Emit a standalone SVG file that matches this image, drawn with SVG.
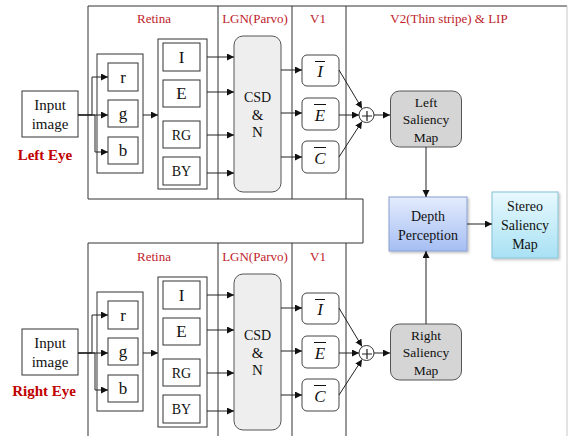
<svg xmlns="http://www.w3.org/2000/svg" width="569" height="436" viewBox="0 0 569 436">
<defs>
<marker id="ah" markerUnits="userSpaceOnUse" markerWidth="8" markerHeight="8" refX="7" refY="3.5" orient="auto"><path d="M0,0 L7,3.5 L0,7 z" fill="#111"/></marker>
<linearGradient id="gDepth" x1="0" y1="0" x2="0" y2="1"><stop offset="0" stop-color="#e4ecfd"/><stop offset="1" stop-color="#a5bef3"/></linearGradient>
<linearGradient id="gStereo" x1="0" y1="0" x2="0" y2="1"><stop offset="0" stop-color="#e8f9fe"/><stop offset="1" stop-color="#a8e1f4"/></linearGradient>
<filter id="sh" x="-10%" y="-10%" width="130%" height="130%"><feDropShadow dx="1.5" dy="1.5" stdDeviation="1" flood-color="#000" flood-opacity="0.25"/></filter>
</defs>
<style>
text{font-family:"Liberation Serif","Times New Roman",serif;fill:#111;text-anchor:middle}
.frame{fill:none;stroke:#333;stroke-width:1}
.box{fill:#fff;stroke:#333;stroke-width:1}
.csd{fill:#eeeeee;stroke:#555;stroke-width:1}
.v1{fill:#fff;stroke:#444;stroke-width:1}
.sal{fill:#d5d5d5;stroke:#555;stroke-width:1}
.lbl{fill:#c0222a;font-size:13px}
.eye{fill:#c00000;font-size:15px;font-weight:bold}
.t14{font-size:15px}
.t13{font-size:14px}
.ts{font-size:13.5px}
.t16{font-size:17px}
.it{font-size:17px;font-style:italic}
.ol{stroke:#111;stroke-width:1}
.con{fill:none;stroke:#222;stroke-width:1}
</style>
<rect width="569" height="436" fill="#fff"/>
<g id="frame">
<path class="frame" d="M88,436 V243 H363 V199 H88 V6 H567"/>
<line x1="567" y1="6" x2="567" y2="436" style="stroke:#c8c8c8;stroke-width:1"/>
<line class="frame" x1="218" y1="6" x2="218" y2="199"/>
<line class="frame" x1="292" y1="6" x2="292" y2="199"/>
<line class="frame" x1="346" y1="6" x2="346" y2="199"/>
<line class="frame" x1="218" y1="243" x2="218" y2="436"/>
<line class="frame" x1="292" y1="243" x2="292" y2="436"/>
<line class="frame" x1="346" y1="243" x2="346" y2="436"/>
<text class="lbl" x="154" y="23">Retina</text>
<text class="lbl" x="255" y="23">LGN(Parvo)</text>
<text class="lbl" x="318" y="23">V1</text>
<text class="lbl" x="449" y="23">V2(Thin stripe) &amp; LIP</text>
<text class="lbl" x="154" y="261">Retina</text>
<text class="lbl" x="255" y="261">LGN(Parvo)</text>
<text class="lbl" x="318" y="261">V1</text>
</g>
<g id="input-left"><rect class="box" x="22" y="91" width="56" height="46"/><text class="t14" x="50" y="110">Input</text><text class="t14" x="50" y="129">image</text><text class="eye" x="45" y="160">Left Eye</text></g>
<g id="rgb-left"><rect class="box" x="97" y="54" width="46" height="119"/><rect class="box" x="108" y="63" width="30" height="28"/><text class="t16" x="123" y="83">r</text><rect class="box" x="108" y="100" width="30" height="27"/><text class="t16" x="123" y="119">g</text><rect class="box" x="108" y="137" width="30" height="27"/><text class="t16" x="123" y="156">b</text></g>
<g id="iergby-left"><rect class="box" x="158" y="39" width="49" height="150"/><rect class="box" x="163" y="43" width="37" height="28"/><text class="t16" x="181.5" y="63">I</text><rect class="box" x="163" y="80" width="37" height="27"/><text class="t16" x="181.5" y="99">E</text><rect class="box" x="163" y="121" width="37" height="27"/><text class="t13" x="181.5" y="139.5">RG</text><rect class="box" x="163" y="157" width="37" height="28"/><text class="t13" x="181.5" y="176">BY</text></g>
<g id="csd-left"><rect class="csd" x="234" y="36" width="47" height="156" rx="9"/><text class="t13" x="257.5" y="102">CSD</text><text class="t14" x="257.5" y="120">&amp;</text><text class="t14" x="257.5" y="137">N</text></g>
<g id="v1-left"><rect class="v1" x="302" y="55" width="37" height="31" rx="5"/><text class="it" x="320" y="77">I</text><line class="ol" x1="315" y1="61.5" x2="325" y2="61.5"/><rect class="v1" x="302" y="98" width="37" height="32" rx="5"/><text class="it" x="320" y="121">E</text><line class="ol" x1="314" y1="104.5" x2="326" y2="104.5"/><rect class="v1" x="302" y="141" width="37" height="32" rx="5"/><text class="it" x="320" y="164">C</text><line class="ol" x1="314" y1="147.5" x2="326" y2="147.5"/></g>
<g id="plus-left"><circle cx="366.5" cy="115" r="7.5" fill="#fff" stroke="#333"/><path d="M362,116 H372 M367,111 V121" stroke="#222" stroke-width="1.2"/></g>
<g id="left-saliency"><rect class="sal" x="390.5" y="91" width="71" height="56" rx="9"/><text class="ts" x="426" y="107">Left</text><text class="ts" x="426" y="124">Saliency</text><text class="ts" x="426" y="142">Map</text></g>
<g id="input-right"><rect class="box" x="22" y="329" width="56" height="46"/><text class="t14" x="50" y="348">Input</text><text class="t14" x="50" y="367">image</text><text class="eye" x="44" y="396">Right Eye</text></g>
<g id="rgb-right" transform="translate(0,238)"><rect class="box" x="97" y="54" width="46" height="119"/><rect class="box" x="108" y="63" width="30" height="28"/><text class="t16" x="123" y="83">r</text><rect class="box" x="108" y="100" width="30" height="27"/><text class="t16" x="123" y="119">g</text><rect class="box" x="108" y="137" width="30" height="27"/><text class="t16" x="123" y="156">b</text></g>
<g id="iergby-right" transform="translate(0,238)"><rect class="box" x="158" y="39" width="49" height="150"/><rect class="box" x="163" y="43" width="37" height="28"/><text class="t16" x="181.5" y="63">I</text><rect class="box" x="163" y="80" width="37" height="27"/><text class="t16" x="181.5" y="99">E</text><rect class="box" x="163" y="121" width="37" height="27"/><text class="t13" x="181.5" y="139.5">RG</text><rect class="box" x="163" y="157" width="37" height="28"/><text class="t13" x="181.5" y="176">BY</text></g>
<g id="csd-right" transform="translate(0,238)"><rect class="csd" x="234" y="36" width="47" height="156" rx="9"/><text class="t13" x="257.5" y="102">CSD</text><text class="t14" x="257.5" y="120">&amp;</text><text class="t14" x="257.5" y="137">N</text></g>
<g id="v1-right" transform="translate(0,238)"><rect class="v1" x="302" y="55" width="37" height="31" rx="5"/><text class="it" x="320" y="77">I</text><line class="ol" x1="315" y1="61.5" x2="325" y2="61.5"/><rect class="v1" x="302" y="98" width="37" height="32" rx="5"/><text class="it" x="320" y="121">E</text><line class="ol" x1="314" y1="104.5" x2="326" y2="104.5"/><rect class="v1" x="302" y="141" width="37" height="32" rx="5"/><text class="it" x="320" y="164">C</text><line class="ol" x1="314" y1="147.5" x2="326" y2="147.5"/></g>
<g id="plus-right"><circle cx="366.5" cy="353" r="7.5" fill="#fff" stroke="#333"/><path d="M362,354 H372 M367,349 V359" stroke="#222" stroke-width="1.2"/></g>
<g id="right-saliency"><rect class="sal" x="390.5" y="324" width="71" height="56" rx="9"/><text class="ts" x="426" y="340">Right</text><text class="ts" x="426" y="357">Saliency</text><text class="ts" x="426" y="375">Map</text></g>
<g id="depth-perception"><rect x="389" y="197" width="78" height="54" fill="url(#gDepth)" stroke="#8aa0d0" filter="url(#sh)"/><text class="t13" x="428" y="221">Depth</text><text class="t13" x="428" y="240">Perception</text></g>
<g id="stereo-saliency"><rect x="492" y="192" width="66" height="66" fill="url(#gStereo)" stroke="#86c2d6" filter="url(#sh)"/><text class="t13" x="525" y="211">Stereo</text><text class="t13" x="525" y="230">Saliency</text><text class="t13" x="525" y="249">Map</text></g>
<g id="connectors" class="con" marker-end="url(#ah)">
<path d="M78,115 H108"/><path d="M78,115 H92 V77 H108"/><path d="M78,115 H95 V152 H108"/>
<path d="M143,115 H158"/>
<path d="M207,57 H234"/><path d="M207,92 H234"/><path d="M207,135 H234"/><path d="M207,173 H234"/>
<path d="M281,70 H302"/><path d="M281,113 H302"/><path d="M281,157 H302"/>
<path d="M339,70 L362,108.5"/><path d="M339,115 H359"/><path d="M339,157 L362,121.5"/>
<path d="M374,115 H390"/>
<path d="M78,353 H108"/><path d="M78,353 H92 V315 H108"/><path d="M78,353 H95 V390 H108"/>
<path d="M143,353 H158"/>
<path d="M207,295 H234"/><path d="M207,330 H234"/><path d="M207,373 H234"/><path d="M207,411 H234"/>
<path d="M281,308 H302"/><path d="M281,351 H302"/><path d="M281,395 H302"/>
<path d="M339,308 L362,346.5"/><path d="M339,353 H359"/><path d="M339,395 L362,359.5"/>
<path d="M374,353 H390"/>
<path d="M426,147 V197"/>
<path d="M426,324 V251"/>
<path d="M467,224 H492"/>
</g>
</svg>
